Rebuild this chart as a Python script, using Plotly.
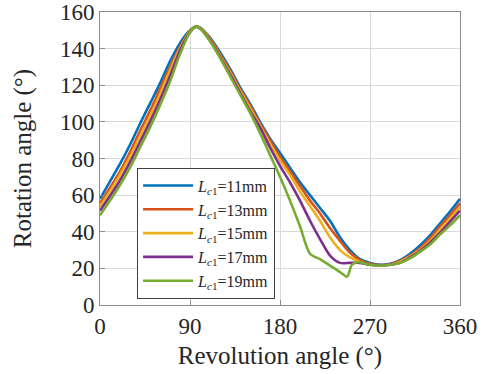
import plotly.graph_objects as go

# Revolution angle sample points (deg)
x_vals = [0, 10, 20, 30, 40, 50, 60, 70, 80, 90, 96, 100, 110, 120, 130, 140, 150, 160, 170,
          180, 190, 200, 210, 220, 230, 240, 250, 260, 270, 280, 290, 300, 310, 320, 330, 340, 350, 360]

lc11 = [58, 67.5, 77, 87.5, 99, 110, 121, 133, 143, 150, 152, 151.5, 146, 138, 129, 119, 110, 100, 91,
        83, 75, 67, 60, 53, 46, 37, 30, 25, 23, 22, 22.5, 24.5, 28, 32.5, 38, 44.5, 51, 58]
lc13 = [55.5, 64, 73, 83.5, 95, 106, 118, 130, 141, 149.5, 152, 151.3, 145.5, 137, 128, 118, 109, 99, 90,
        81, 73, 65, 57, 50, 42, 35, 28.5, 24.5, 22.5, 21.8, 22.3, 24, 27, 31, 36.5, 43, 49, 55.5]
lc15 = [53.5, 62, 71, 81, 92, 103, 115, 128, 140, 149.5, 152, 151.2, 145, 136, 127, 117, 107.5, 98, 88,
        79, 71, 62, 54, 46, 37, 30, 26, 23.5, 22, 21.7, 22, 23.5, 26.5, 30, 35, 41, 47, 53.5]
lc17 = [51.5, 59.5, 68, 78, 89, 100, 112, 125, 139, 149, 152, 151, 144.5, 135.5, 126, 116, 106, 97, 86,
        76, 67, 57, 46, 36, 27, 23, 23, 23, 22, 21.6, 22, 23, 26, 29.5, 34, 39.5, 45.5, 51.5]
x_green = [0, 10, 20, 30, 40, 50, 60, 70, 80, 90, 96, 100, 110, 120, 130, 140, 150, 160, 170,
           180, 190, 200, 210, 220, 230, 240, 247, 252, 258, 265, 270, 280, 290, 300, 310, 320, 330, 340, 350, 360]
lc19 = [49, 57, 65.5, 75, 86, 97, 109, 122, 137, 149, 152, 151, 144, 135, 125, 115, 105, 94, 82,
        70, 57, 43, 28, 25, 21.5, 18, 15.5, 22, 23.5, 22.5, 22, 21.5, 22, 23, 25.5, 29, 33, 38.5, 43.5, 49]

names = ["11", "13", "15", "17", "19"]
colors = ["#0072BD", "#D95319", "#EDB120", "#7E2F8E", "#77AC30"]
series = [(x_vals, lc11), (x_vals, lc13), (x_vals, lc15), (x_vals, lc17), (x_green, lc19)]

x_ticks = [0, 90, 180, 270, 360]
y_ticks = [0, 20, 40, 60, 80, 100, 120, 140, 160]

FONT = "Liberation Serif, Times New Roman, serif"

fig = go.Figure()
for (xs, ys), n, c in zip(series, names, colors):
    fig.add_trace(go.Scatter(
        x=xs, y=ys, mode="lines",
        line=dict(color=c, width=2.6, shape="spline", smoothing=0.8),
        name=f"<i>L</i><sub><i>c</i>1</sub>=" + n + "mm",
    ))

axis_common = dict(
    showgrid=True, gridcolor="#d9d9d9", gridwidth=1,
    showline=True, linecolor="#8c8c8c", linewidth=1, mirror=True,
    ticks="inside", ticklen=5, tickcolor="#8c8c8c",
    zeroline=False, ticklabeloverflow="allow",
    tickfont=dict(family=FONT, size=23, color="#262626"),
)

fig.update_layout(
    width=491, height=374,
    margin=dict(l=100, r=31, t=12, b=69, autoexpand=False),
    paper_bgcolor="white", plot_bgcolor="white",
    font=dict(family=FONT, color="#262626"),
    xaxis=dict(range=[0, 360], tickvals=x_ticks, automargin=False,
               title=dict(text="Revolution angle (°)", font=dict(family=FONT, size=25), standoff=8),
               **axis_common),
    yaxis=dict(range=[0, 160], tickvals=y_ticks, automargin=False,
               title=dict(text="Rotation angle (°)", font=dict(family=FONT, size=25), standoff=21),
               **axis_common),
    legend=dict(x=0.103, y=0.469, xanchor="left", yanchor="top",
                bgcolor="white", bordercolor="#404040", borderwidth=1,
                font=dict(family=FONT, size=16, color="#262626"),
                itemwidth=50, tracegroupgap=0),
    showlegend=True,
)

fig.write_html("out.html")
